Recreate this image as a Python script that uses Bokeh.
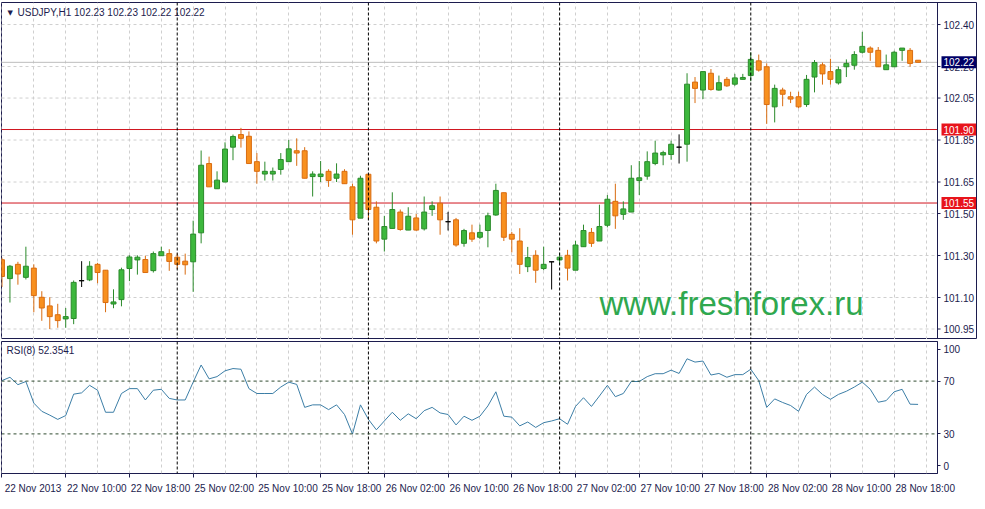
from bokeh.plotting import figure
from bokeh.layouts import column
from bokeh.models import (FixedTicker, Span, Label, Grid, ColumnDataSource, Range1d)
from bokeh.embed import file_html
from bokeh.resources import INLINE
from bokeh.core.properties import value

# ---------------- data (USDJPY H1, 22 Nov 02:00 .. 28 Nov 21:00) ----------------
open_ = [101.28, 101.19, 101.258, 101.196, 101.24, 101.101, 101.06, 101.018, 100.998, 101.00,
         101.18, 101.184, 101.258, 101.23, 101.069, 101.09, 101.238, 101.279, 101.281, 101.228,
         101.299, 101.309, 101.292, 101.273, 101.27, 101.408, 101.738, 101.618, 101.65, 101.816,
         101.876, 101.868, 101.747, 101.688, 101.688, 101.71, 101.747, 101.799, 101.799, 101.676,
         101.676, 101.701, 101.668, 101.701, 101.627, 101.478, 101.687, 101.53, 101.378, 101.429,
         101.507, 101.421, 101.479, 101.427, 101.519, 101.549, 101.461, 101.47, 101.358, 101.408,
         101.387, 101.419, 101.493, 101.599, 101.401, 101.369, 101.247, 101.301, 101.238, 101.27,
         101.279, 101.301, 101.23, 101.342, 101.41, 101.369, 101.444, 101.558, 101.496, 101.507,
         101.657, 101.678, 101.738, 101.779, 101.781, 101.816, 101.83, 102.126, 102.088, 102.168,
         102.088, 102.139, 102.116, 102.139, 102.157, 102.227, 102.199, 102.008, 102.088, 102.056,
         102.056, 102.019, 102.15, 102.208, 102.176, 102.122, 102.199, 102.206, 102.268, 102.288,
         102.277, 102.185, 102.199, 102.277, 102.277, 102.23]
high = [101.29, 101.255, 101.27, 101.342, 101.258, 101.13, 101.101, 101.07, 101.05, 101.181,
        101.273, 101.273, 101.265, 101.23, 101.139, 101.242, 101.301, 101.301, 101.299, 101.319,
        101.342, 101.33, 101.31, 101.309, 101.466, 101.80, 101.771, 101.701, 101.839, 101.876,
        101.908, 101.891, 101.788, 101.747, 101.719, 101.788, 101.85, 101.858, 101.816, 101.701,
        101.75, 101.711, 101.739, 101.711, 101.642, 101.68, 101.69, 101.558, 101.489, 101.601,
        101.519, 101.53, 101.498, 101.581, 101.558, 101.581, 101.508, 101.479, 101.427, 101.447,
        101.447, 101.504, 101.642, 101.60, 101.412, 101.43, 101.341, 101.325, 101.342, 101.27,
        101.313, 101.327, 101.37, 101.447, 101.431, 101.542, 101.588, 101.642, 101.558, 101.73,
        101.75, 101.796, 101.847, 101.799, 101.847, 101.877, 102.168, 102.15, 102.176, 102.188,
        102.157, 102.15, 102.165, 102.165, 102.268, 102.257, 102.215, 102.114, 102.099, 102.08,
        102.08, 102.16, 102.231, 102.219, 102.237, 102.20, 102.234, 102.273, 102.365, 102.296,
        102.293, 102.257, 102.275, 102.288, 102.288, 102.23]
low = [101.15, 101.076, 101.161, 101.186, 101.03, 100.989, 100.95, 100.956, 100.956, 100.973,
       101.15, 101.178, 101.168, 101.03, 101.049, 101.058, 101.178, 101.209, 101.219, 101.219,
       101.299, 101.227, 101.235, 101.209, 101.127, 101.358, 101.627, 101.618, 101.65, 101.754,
       101.814, 101.738, 101.642, 101.657, 101.657, 101.685, 101.747, 101.727, 101.668, 101.581,
       101.65, 101.627, 101.65, 101.642, 101.399, 101.478, 101.47, 101.358, 101.319, 101.429,
       101.418, 101.421, 101.418, 101.419, 101.489, 101.399, 101.419, 101.342, 101.342, 101.365,
       101.378, 101.339, 101.489, 101.369, 101.315, 101.212, 101.221, 101.17, 101.23, 101.138,
       101.258, 101.181, 101.23, 101.342, 101.341, 101.369, 101.434, 101.427, 101.47, 101.507,
       101.588, 101.661, 101.73, 101.73, 101.756, 101.738, 101.747, 102.026, 102.045, 102.085,
       102.085, 102.103, 102.108, 102.139, 102.13, 102.176, 101.927, 101.934, 102.011, 102.026,
       102.001, 102.008, 102.077, 102.114, 102.114, 102.114, 102.15, 102.185, 102.262, 102.227,
       102.199, 102.185, 102.199, 102.227, 102.199, 102.22]
close = [101.20, 101.249, 101.212, 101.249, 101.109, 101.05, 101.009, 100.99, 101.009, 101.172,
         101.18, 101.249, 101.219, 101.076, 101.079, 101.232, 101.293, 101.292, 101.219, 101.309,
         101.318, 101.272, 101.258, 101.256, 101.402, 101.73, 101.627, 101.659, 101.807, 101.867,
         101.858, 101.738, 101.701, 101.701, 101.701, 101.757, 101.808, 101.788, 101.668, 101.688,
         101.688, 101.657, 101.688, 101.642, 101.47, 101.668, 101.519, 101.369, 101.438, 101.519,
         101.424, 101.487, 101.421, 101.507, 101.537, 101.47, 101.461, 101.35, 101.419, 101.378,
         101.41, 101.489, 101.61, 101.387, 101.378, 101.258, 101.29, 101.23, 101.258, 101.27,
         101.292, 101.24, 101.35, 101.419, 101.358, 101.438, 101.568, 101.489, 101.522, 101.668,
         101.67, 101.747, 101.788, 101.79, 101.83, 101.816, 102.116, 102.096, 102.176, 102.091,
         102.123, 102.108, 102.146, 102.148, 102.234, 102.183, 102.019, 102.096, 102.068, 102.045,
         102.008, 102.139, 102.219, 102.165, 102.139, 102.185, 102.215, 102.257, 102.296, 102.268,
         102.199, 102.208, 102.268, 102.288, 102.215, 102.22]
rsi = [70.4, 72.9, 67.3, 69.7, 53.3, 47.1, 44.2, 41.0, 43.9, 60.1,
       61.1, 66.8, 63.1, 46.4, 46.4, 60.6, 64.3, 64.3, 55.7, 63.1,
       63.8, 56.9, 55.7, 55.7, 69.2, 82.2, 71.7, 73.4, 77.8, 79.5,
       79.0, 64.3, 60.6, 60.6, 60.6, 65.5, 69.2, 67.5, 50.1, 52.0,
       52.0, 48.4, 52.0, 44.7, 29.9, 52.0, 41.0, 33.1, 39.8, 46.4,
       40.3, 45.2, 41.5, 47.6, 50.1, 45.9, 44.7, 36.8, 43.4, 40.3,
       43.4, 51.2, 61.9, 43.4, 42.7, 36.1, 39.0, 34.9, 38.5, 39.8,
       41.5, 37.3, 50.8, 57.4, 50.8, 58.7, 66.8, 58.2, 60.6, 69.7,
       69.7, 73.4, 75.6, 75.6, 78.3, 75.8, 86.9, 84.4, 85.2, 74.6,
       75.8, 72.9, 74.9, 74.9, 79.0, 70.4, 50.1, 56.5, 53.8, 51.5,
       47.1, 59.9, 65.5, 59.9, 56.2, 59.9, 62.3, 65.5, 69.2, 63.8,
       54.0, 55.2, 61.9, 63.8, 52.5, 52.3541]

level_lines = [101.90, 101.55]
price_ticks = [100.95, 101.10, 101.30, 101.50, 101.65, 101.85, 102.05, 102.20, 102.40]
time_labels = ["22 Nov 2013", "22 Nov 10:00", "22 Nov 18:00", "25 Nov 02:00", "25 Nov 10:00",
               "25 Nov 18:00", "26 Nov 02:00", "26 Nov 10:00", "26 Nov 18:00", "27 Nov 02:00",
               "27 Nov 10:00", "27 Nov 18:00", "28 Nov 02:00", "28 Nov 10:00", "28 Nov 18:00"]
label_step = 8          # bars between time labels
grid_step = 4           # bars between vertical grid lines
day_starts = [22, 46, 70, 94]   # bar index of 25, 26, 27, 28 Nov 00:00
rsi_levels = [30, 70]
rsi_tick_pos = [6, 30, 70, 94]
rsi_tick_text = ["0", "30", "70", "100"]

# ---------------- layout / style ----------------
FONT = "Liberation Sans"
NAVY = "#1c1c4e"
GRID = "#cfcfcf"
BULL_FILL, BULL_LINE = "#3db83d", "#2b8a2b"
BEAR_FILL, BEAR_LINE = "#f8901f", "#d96c10"
LEVEL_RED = "#d0141e"
X0, AXIS_X = -0.06, 117.44          # chart area in bar units
CHART_W = 936                       # px of the chart area
TOTAL_W = 976                       # px incl. price scale
PX = CHART_W / (AXIS_X - X0)        # px per bar

n = len(close)
xs = list(range(n))
fill, edge, wick, top, bot = [], [], [], [], []
for o, c in zip(open_, close):
    if abs(o - c) < 0.0005:
        fill.append("black"); edge.append("black"); wick.append("black")
    elif c > o:
        fill.append(BULL_FILL); edge.append(BULL_LINE); wick.append(BULL_LINE)
    else:
        fill.append(BEAR_FILL); edge.append(BEAR_LINE); wick.append(BEAR_LINE)
    top.append(max(o, c)); bot.append(min(o, c))

src = ColumnDataSource(dict(x=xs, high=high, low=low, top=top, bottom=bot,
                            fill=fill, edge=edge, wick=wick, rsi=rsi))
vgrid_ticks = list(range(0, n + 1, grid_step))

# ---------------- price pane (price scale drawn inside the frame) ----------------
p = figure(frame_width=TOTAL_W, frame_height=337,
           x_range=Range1d(X0, X0 + TOTAL_W / PX), y_range=Range1d(100.90, 102.505),
           x_axis_location=None, y_axis_location=None, output_backend="svg",
           toolbar_location=None, min_border_left=1, min_border_right=0,
           min_border_top=2, min_border_bottom=0)
p.background_fill_color = "white"
p.border_fill_color = "white"
p.outline_line_color = NAVY
p.xgrid.grid_line_color = None
p.ygrid.grid_line_color = None
p.add_layout(Grid(dimension=0, ticker=FixedTicker(ticks=vgrid_ticks),
                  grid_line_color=GRID, grid_line_dash="3 3"))

# horizontal grid at price ticks, ending at the price scale
p.segment(x0=[X0] * len(price_ticks), y0=price_ticks, x1=[AXIS_X] * len(price_ticks),
          y1=price_ticks, line_color=GRID, line_dash="3 3", line_width=1)
for d in day_starts:
    p.add_layout(Span(location=d, dimension="height", line_color="black", line_dash="3 2", line_width=1))
# bid line and horizontal levels
p.segment(x0=[X0], y0=[close[-1]], x1=[AXIS_X], y1=[close[-1]], line_color="#bdbdbd", line_width=1)
p.segment(x0=[X0] * len(level_lines), y0=level_lines, x1=[AXIS_X] * len(level_lines),
          y1=level_lines, line_color=LEVEL_RED, line_width=1)

# candles
p.segment(x0="x", y0="high", x1="x", y1="low", line_color="wick", line_width=1, source=src)
p.vbar(x="x", width=0.62, top="top", bottom="bottom", fill_color="fill", line_color="edge",
       line_width=1, source=src)

# price scale
p.add_layout(Span(location=AXIS_X, dimension="height", line_color=NAVY, line_width=1))
p.segment(x0=[AXIS_X] * len(price_ticks), y0=price_ticks,
          x1=[AXIS_X + 3 / PX] * len(price_ticks), y1=price_ticks, line_color=NAVY, line_width=1)
p.text(x=[AXIS_X + 6 / PX] * len(price_ticks), y=price_ticks,
       text=[f"{t:.2f}" for t in price_ticks], text_color=NAVY, text_font=value(FONT),
       text_font_size=value("10px"), text_baseline="middle", text_align="left")

p.add_layout(Label(x=AXIS_X + 4 / PX, y=close[-1], text=f"{close[-1]:.2f}",
                   text_color="white", background_fill_color="#000066",
                   text_font=FONT, text_font_size="10px", text_baseline="middle", padding=2))
for lv in level_lines:
    p.add_layout(Label(x=AXIS_X + 4 / PX, y=lv, text=f"{lv:.2f}",
                       text_color="white", background_fill_color="#e8141b",
                       text_font=FONT, text_font_size="10px", text_baseline="middle", padding=2))

# watermark and header
p.add_layout(Label(x=75, y=101.07, text="www.freshforex.ru", text_color="#2fa84f",
                   text_font=FONT, text_font_size="33px", text_baseline="alphabetic"))
p.add_layout(Label(x=6, y=327, x_units="screen", y_units="screen", text="▼",
                   text_color=NAVY, text_font="DejaVu Sans", text_font_size="7px",
                   text_baseline="middle"))
p.add_layout(Label(x=16, y=327, x_units="screen", y_units="screen",
                   text=f"USDJPY,H1  {open_[-1]:.2f} {high[-1]:.2f} {low[-1]:.2f} {close[-1]:.2f}",
                   text_color=NAVY, text_font=FONT, text_font_size="10px",
                   text_baseline="middle"))

# ---------------- RSI pane ----------------
r = figure(frame_width=CHART_W, frame_height=132, x_range=Range1d(X0, AXIS_X), y_range=Range1d(0, 100),
           y_axis_location="right", output_backend="svg", toolbar_location=None,
           min_border_left=1, min_border_right=TOTAL_W - CHART_W, min_border_top=2,
           min_border_bottom=19)
r.background_fill_color = "white"
r.border_fill_color = "white"
r.outline_line_color = NAVY
r.ygrid.grid_line_color = None
r.xgrid.ticker = FixedTicker(ticks=vgrid_ticks)
r.xgrid.grid_line_color = GRID
r.xgrid.grid_line_dash = "3 3"

label_starts = [k * label_step for k in range(len(time_labels))]
label_centers = [s + 3.9 for s in label_starts]
xa = r.xaxis[0]
xa.ticker = FixedTicker(ticks=label_centers, minor_ticks=label_starts)
xa.major_label_overrides = {c: t for c, t in zip(label_centers, time_labels)}
xa.major_tick_line_color = None
xa.minor_tick_line_color = NAVY
xa.minor_tick_out = 4
xa.minor_tick_in = 0
xa.axis_line_color = None
xa.major_label_standoff = 3
xa.major_label_text_font = FONT
xa.major_label_text_font_size = "10px"
xa.major_label_text_color = NAVY

ra = r.yaxis[0]
ra.ticker = FixedTicker(ticks=rsi_tick_pos)
ra.major_label_overrides = {pos: t for pos, t in zip(rsi_tick_pos, rsi_tick_text)}
ra.axis_line_color = NAVY
ra.major_tick_line_color = NAVY
ra.major_tick_out = 3
ra.major_tick_in = 0
ra.minor_tick_line_color = None
ra.major_label_standoff = 3
ra.major_label_text_font = FONT
ra.major_label_text_font_size = "10px"
ra.major_label_text_color = NAVY

for d in day_starts:
    r.add_layout(Span(location=d, dimension="height", line_color="black", line_dash="3 2", line_width=1))
for lv in rsi_levels:
    r.add_layout(Span(location=lv, dimension="width", line_color="#2f4a2f", line_dash="3 3", line_width=1))

r.line(x="x", y="rsi", line_color="#3c7ea6", line_width=1, source=src)
r.add_layout(Label(x=5, y=123, x_units="screen", y_units="screen", text=f"RSI(8) {rsi[-1]:.4f}",
                   text_color=NAVY, text_font=FONT, text_font_size="10px",
                   text_baseline="middle"))

layout = column(p, r, spacing=0)
open("out.html", "w").write(file_html(layout, INLINE))
